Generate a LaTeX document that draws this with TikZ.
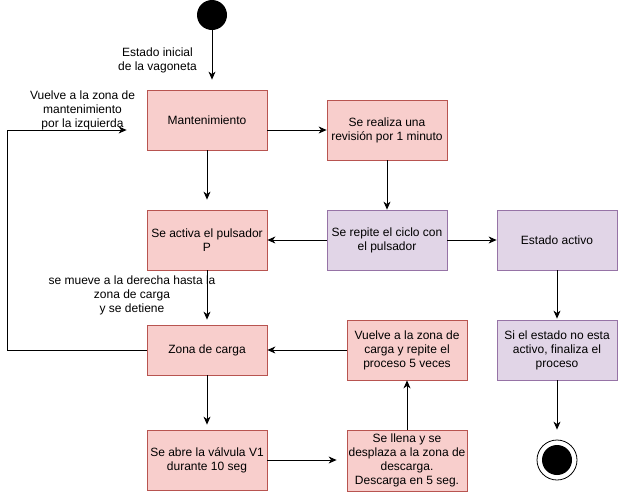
\documentclass[tikz,border=0pt]{standalone}
\usepackage{fontspec}
\setmainfont{Liberation Sans}
\usetikzlibrary{arrows.meta}
\begin{document}
\begin{tikzpicture}[x=1pt,y=-1pt,
  font=\fontsize{12}{14}\selectfont,
  redbox/.style={draw={rgb,255:red,184;green,84;blue,80}, fill={rgb,255:red,248;green,206;blue,204}, line width=0.8pt, minimum width=120pt, minimum height=60pt, align=center, inner sep=1pt},
  purplebox/.style={draw={rgb,255:red,150;green,115;blue,166}, fill={rgb,255:red,225;green,213;blue,231}, line width=0.8pt, minimum width=120pt, minimum height=60pt, align=center, inner sep=1pt},
  flow/.style={line width=0.8pt, -{Stealth[length=8pt,width=7pt,inset=2.5pt]}},
  lbl/.style={align=center, inner sep=0pt}
]
\useasboundingbox (0,0) rectangle (618,491);

% initial and final states
\node[circle, fill=black, minimum size=30pt, inner sep=0pt] (start) at (212,15) {};
\node[circle, draw=black, fill=white, line width=0.8pt, minimum size=40pt, inner sep=0pt] (fin) at (557,460) {};
\node[circle, fill=black, minimum size=30pt, inner sep=0pt] (finin) at (557,460) {};

% activity boxes
\node[redbox] (mant) at (207,120) {Mantenimiento};
\node[redbox] (rev) at (387,130) {Se realiza una\\revisión por 1 minuto};
\node[purplebox] (rep) at (387,240) {Se repite el ciclo con\\el pulsador};
\node[purplebox] (act) at (557,240) {Estado activo};
\node[redbox] (puls) at (207,240) {Se activa el pulsador\\P};
\node[redbox, minimum height=50pt] (carga) at (207,350) {Zona de carga};
\node[redbox] (valv) at (207,460) {Se abre la válvula V1\\durante 10 seg};
\node[redbox, minimum height=61pt] (llena) at (407,460.5) {Se llena y se\\desplaza a la zona de\\descarga.\\Descarga en 5 seg.};
\node[redbox] (vuelve) at (407,350) {Vuelve a la zona de\\carga y repite el\\proceso 5 veces};
\node[purplebox] (fina) at (557,350) {Si el estado no esta\\activo, finaliza el\\proceso};

% transition labels
\node[lbl] at (157.5,60.5) {Estado inicial\\de la vagoneta};
\node[lbl] at (82.5,110.5) {Vuelve a la zona de\\mantenimiento\\por la izquierda};
\node[lbl] at (132,295.5) {se mueve a la derecha hasta la\\zona de carga\\y se detiene};

% transitions
\draw[flow, shorten >=10pt] (start) -- (start |- mant.north);
\draw[flow] (mant.east |- rev) -- (rev);
\draw[flow, shorten >=10pt] (mant) -- (puls);
\draw[flow] (rev) -- (rep);
\draw[flow] (rep) -- (puls);
\draw[flow] (rep) -- (act);
\draw[flow, shorten >=5pt] (puls) -- (carga);
\draw[flow, shorten >=5pt] (carga) -- (valv);
\draw[flow, shorten >=10pt] (valv) -- (valv -| llena.west);
\draw[flow] (llena) -- (vuelve);
\draw[flow] (vuelve) -- (carga);
\draw[flow, shorten >=1pt] (act) -- (fina);
\draw[flow, shorten >=10pt] (fina) -- (fin);

% return loop to maintenance
\coordinate (loopbot) at (7,350);
\coordinate (looptop) at (7,130);
\draw[flow, shorten >=20pt] (carga.west) -- (loopbot) -- (looptop) -- (looptop -| mant.west);
\end{tikzpicture}
\end{document}
